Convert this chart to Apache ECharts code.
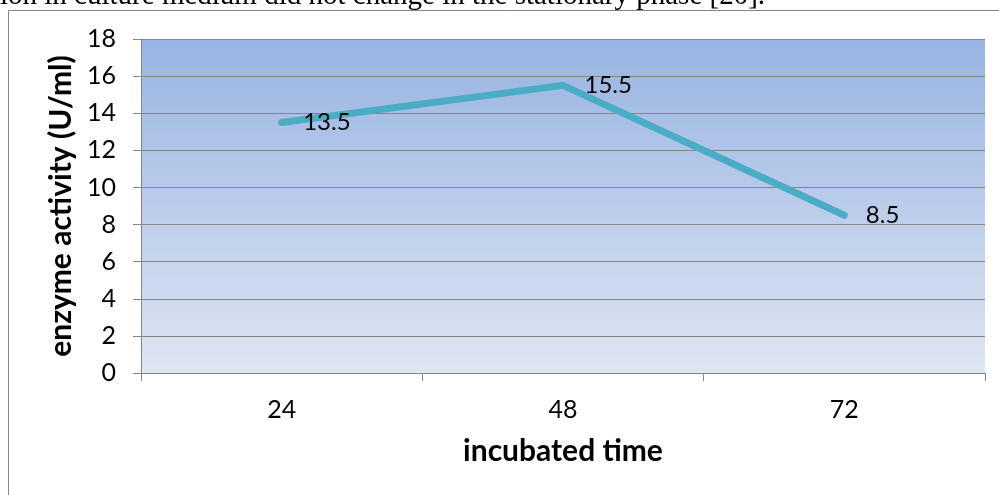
<!DOCTYPE html>
<html>
<head>
<meta charset="utf-8">
<script src="https://cdn.jsdelivr.net/npm/echarts@6/dist/echarts.min.js"></script>
<style>
html, body { margin: 0; padding: 0; background: #fff; }
#chart { width: 999px; height: 495px; }
</style>
</head>
<body>
<div id="chart"></div>
<script>
//培养时间(h)
var hours = ['24', '48', '72'];
//酶活力(U/ml)
var activity = [13.5, 15.5, 8.5];
//纵轴刻度
var yMin = 0, yMax = 18, yStep = 2;

var fontName = 'Lato';
var chart = echarts.init(document.getElementById('chart'));

var option = {
	animation: false,
	graphic: [{
		//上方被截断的正文
		type: 'text',
		left: 0,
		top: -18,
		style: {
			text: 'ion in culture medium did not change in the stationary phase [20].',
			font: '29px "Liberation Serif"',
			fill: '#000'
		},
		z: 10
	}, {
		//图表外框
		type: 'rect',
		shape: { x: 8.5, y: 10.5, width: 1200, height: 800 },
		style: { fill: 'none', stroke: '#868686', lineWidth: 1 },
		z: -10
	}],
	grid: {
		left: 141,
		top: 39,
		right: 14,
		bottom: 122,
		show: true,
		borderWidth: 0,
		backgroundColor: new echarts.graphic.LinearGradient(0, 0, 0, 1, [
			{ offset: 0, color: '#98B4E2' },
			{ offset: 1, color: '#DEE5F3' }
		])
	},
	xAxis: {
		type: 'category',
		data: hours,
		boundaryGap: true,
		name: 'incubated time',
		nameLocation: 'middle',
		nameGap: 63,
		nameTextStyle: { fontFamily: fontName, fontWeight: 'bold', fontSize: 30, color: '#000' },
		axisLine: { lineStyle: { color: '#868686', width: 1 } },
		axisTick: { show: true, length: 8, lineStyle: { color: '#868686' } },
		axisLabel: { margin: 24, fontFamily: fontName, fontSize: 25, color: '#000' },
		splitLine: { show: false }
	},
	yAxis: {
		type: 'value',
		min: yMin,
		max: yMax,
		interval: yStep,
		name: 'enzyme activity (U/ml)',
		nameLocation: 'middle',
		nameGap: 62,
		nameTextStyle: { fontFamily: fontName, fontWeight: 'bold', fontSize: 30, color: '#000' },
		axisLine: { show: true, lineStyle: { color: '#868686', width: 1 } },
		axisTick: { show: true, length: 8, lineStyle: { color: '#868686' } },
		axisLabel: { margin: 25, fontFamily: fontName, fontSize: 25, color: '#000' },
		splitLine: { show: true, lineStyle: { color: '#868686', width: 1 } }
	},
	series: [{
		type: 'line',
		data: activity,
		symbol: 'circle',
		symbolSize: 1,
		itemStyle: { color: '#4BACC6' },
		lineStyle: { color: '#4BACC6', width: 7, cap: 'round', join: 'round' },
		label: {
			show: true,
			position: 'right',
			distance: 21,
			fontFamily: fontName,
			fontSize: 24,
			color: '#000'
		}
	}]
};
chart.setOption(option);
</script>
</body>
</html>
